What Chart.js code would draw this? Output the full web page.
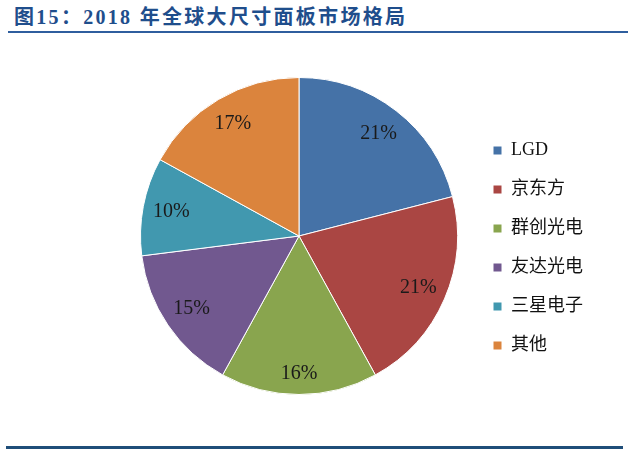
<!DOCTYPE html>
<html>
<head>
<meta charset="utf-8">
<script src="https://cdn.jsdelivr.net/npm/chart.js@4"></script>
<style>
  body { margin: 0; background: #fff; }
  #title {
    position: absolute; left: 14px; top: 1px;
    font: bold 20px "Liberation Serif", "Noto Sans CJK SC", serif;
    letter-spacing: 2.3px; color: #1F4E8C; white-space: nowrap;
  }
  #topLine { position: absolute; left: 8px; top: 31px; width: 620px; height: 2px; background: #2F5E9E; }
  #bottomLine { position: absolute; left: 6px; top: 446px; width: 617px; height: 3px; background: #1F4E79; }
  #wrap { position: absolute; left: 0; top: 77px; width: 640px; height: 318px; }
</style>
</head>
<body>
<div id="title">图15：2018 年全球大尺寸面板市场格局</div>
<div id="topLine"></div>
<div id="wrap"><canvas id="pie"></canvas></div>
<div id="bottomLine"></div>
<script>
const labels = ['LGD', '京东方', '群创光电', '友达光电', '三星电子', '其他'];
const shares = [21, 21, 16, 15, 10, 17];
const colors = ['#4572A7', '#AA4643', '#89A54E', '#71588F', '#4198AF', '#DB843D'];

Chart.defaults.font.family = '"Liberation Serif", "Noto Sans CJK SC", serif';

// percentage labels drawn inside each slice
const sliceLabels = {
  id: 'sliceLabels',
  afterDatasetsDraw(chart) {
    const ctx = chart.ctx;
    const meta = chart.getDatasetMeta(0);
    ctx.save();
    ctx.font = '20px "Liberation Serif", serif';
    ctx.fillStyle = '#1a1a1a';
    ctx.textAlign = 'center';
    ctx.textBaseline = 'middle';
    meta.data.forEach((arc, i) => {
      const p = arc.getProps(['x', 'y', 'startAngle', 'endAngle', 'outerRadius'], true);
      const mid = (p.startAngle + p.endAngle) / 2;
      const r = p.outerRadius * (i === 2 ? 0.87 : 0.82);
      ctx.fillText(shares[i] + '%', p.x + Math.cos(mid) * r, p.y + Math.sin(mid) * r);
    });
    ctx.restore();
  }
};

new Chart(document.getElementById('pie'), {
  type: 'pie',
  data: {
    labels: labels,
    datasets: [{
      data: shares,
      backgroundColor: colors,
      borderColor: '#ffffff',
      borderWidth: 1
    }]
  },
  options: {
    responsive: true,
    maintainAspectRatio: false,
    animation: false,
    layout: { padding: { left: 126, right: 47, top: 0, bottom: 0 } },
    plugins: {
      legend: {
        position: 'right',
        title: { display: true, text: ' ', font: { size: 10 }, padding: 6 },
        labels: {
          boxWidth: 9,
          boxHeight: 9,
          padding: 21,
          color: '#111',
          font: { size: 18 }
        }
      },
      tooltip: { enabled: false }
    }
  },
  plugins: [sliceLabels]
});
</script>
</body>
</html>
